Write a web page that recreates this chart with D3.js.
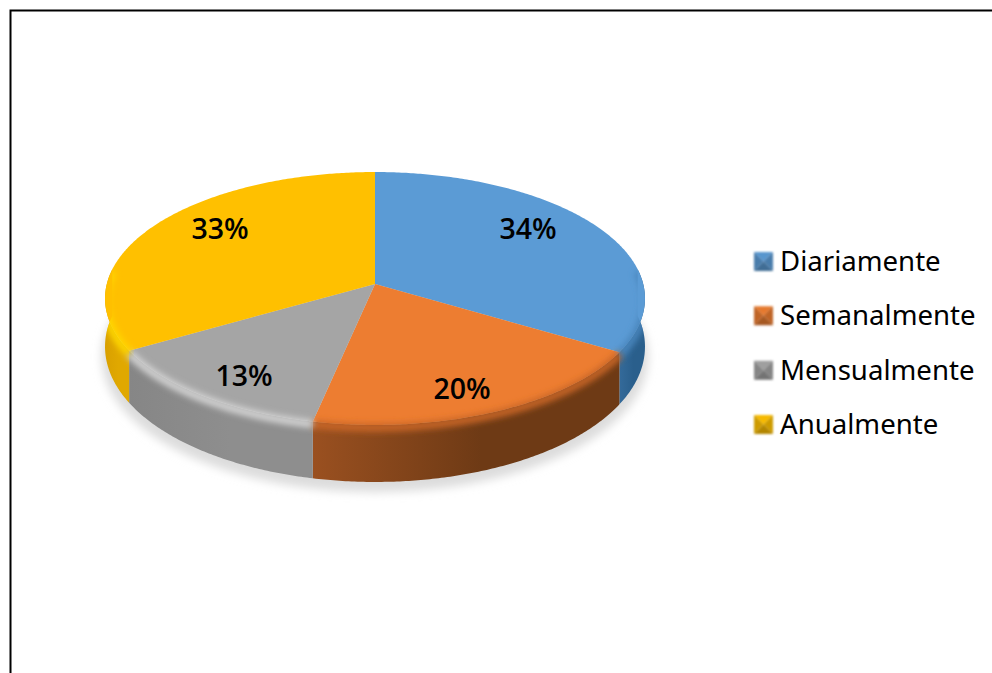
<!DOCTYPE html>
<html><head><meta charset="utf-8">
<script src="https://cdn.jsdelivr.net/npm/d3@7"></script>
<style>html,body{margin:0;padding:0;background:#fff}svg{display:block}</style></head>
<body><svg id="c" width="992" height="673"></svg>
<script>
const categories = ["Diariamente","Semanalmente","Mensualmente","Anualmente"];
const shares = [33.6,19.7,13.3,33.4];
const topColors = ["#5B9BD5","#ED7D31","#A5A5A5","#FFC000"];
const wallStops = [
 ["#2a5f8c","#346a9a"],
 ["#6e3a15","#9a5020"],
 ["#8e8e8e","#868686"],
 ["#e0a800","#d9a000"]];
const bevelColors = ["#4a86bd","#c96628","#d4d4d4","#ffd800"];

const svg = d3.select("#c"), defs = svg.append("defs");
const wide = f => f.attr("x","-20%").attr("y","-40%").attr("width","140%").attr("height","180%");
wide(defs.append("filter").attr("id","sh")).append("feGaussianBlur").attr("stdDeviation",5);
wide(defs.append("filter").attr("id","bv")).append("feGaussianBlur").attr("stdDeviation",3.2);
defs.append("filter").attr("id","sw").append("feGaussianBlur").attr("stdDeviation",1);

// frame
svg.append("path").attr("d","M10.5,673V10.5H992").attr("fill","none").attr("stroke","#000").attr("stroke-width",2);

// perspective disc
const cx=375, cy=284, k=0.1146, a=268.2, b=124.8;
const proj = t => { const u=Math.sin(t), v=-Math.cos(t), d=1-k*v;
  return [cx+a*u/d, cy+b*v/d]; };
const depth = t => { const v=-Math.cos(t); return 47+10*Math.max(v,-1)*(v>0?1:0.2); };
const below = t => { const p=proj(t); return [p[0],p[1]+depth(t)]; };
const line = d3.line();
const pie = d3.pie().sort(null).value(d=>d)(shares);
const samples = (s,e) => { const n=Math.max(2,Math.ceil((e-s)/0.01)); return d3.range(n+1).map(i=>s+(e-s)*i/n); };

// ground shadow
const ALL = samples(0,2*Math.PI);
svg.append("path").attr("d",line(ALL.map(t=>{const p=below(t);return [p[0]+(p[0]-cx)*0.012,p[1]+10];}))+"Z")
  .attr("fill","#dcdcdc").attr("filter","url(#sh)");

// silhouette clip for the bevel
const lo=Math.PI/2-0.12, hi=3*Math.PI/2+0.12;
const sil = samples(0,lo).map(proj)
  .concat(samples(lo,hi).map(below))
  .concat(samples(hi,2*Math.PI).map(proj));
defs.append("clipPath").attr("id","disc").append("path").attr("d",line(sil)+"Z");

// walls (front half only)
const front = (s,e) => [Math.max(s,lo), Math.min(e,hi)];
const wallG = svg.append("g");
pie.forEach((d,i)=>{
  const [s,e]=front(d.startAngle,d.endAngle);
  if(e<=s) return;
  const ts=samples(s,e), xs=ts.map(t=>proj(t)[0]);
  const g=defs.append("linearGradient").attr("id","w"+i).attr("gradientUnits","userSpaceOnUse")
    .attr("x1",d3.min(xs)).attr("x2",d3.max(xs)).attr("y1",0).attr("y2",0);
  g.append("stop").attr("offset",0).attr("stop-color",wallStops[i][1]);
  g.append("stop").attr("offset",.55).attr("stop-color",wallStops[i][0]);
  g.append("stop").attr("offset",1).attr("stop-color",wallStops[i][0]);
  wallG.append("path").attr("d",line(ts.map(proj).concat(ts.slice().reverse().map(below)))+"Z")
    .attr("fill",`url(#w${i})`);
});

// top face
svg.append("g").selectAll("path").data(pie).join("path")
  .attr("d",d=>line([[cx,cy]].concat(samples(d.startAngle,d.endAngle).map(proj)))+"Z")
  .attr("fill",(d,i)=>topColors[i]);

// rim bevel over the face edge
const bevG = svg.append("g").attr("clip-path","url(#disc)");
pie.forEach((d,i)=>{
  const [s,e]=front(d.startAngle,d.endAngle);
  if(e<=s) return;
  bevG.append("path").attr("d",line(samples(s,e).map(t=>{const p=proj(t);return [p[0],p[1]+2.5];})))
    .attr("fill","none").attr("stroke",bevelColors[i]).attr("stroke-width",8).attr("filter","url(#bv)");
});

// labels
const labelPos = [[528,229],[462,389],[244,376],[220,229]];
const pct = d3.format(".0f");
svg.append("g").selectAll("text").data(pie).join("text")
  .attr("x",(d,i)=>labelPos[i][0]).attr("y",(d,i)=>labelPos[i][1])
  .attr("dy","0.35em").attr("text-anchor","middle")
  .attr("font-family","'Open Sans'").attr("font-weight",600).attr("font-size",28.5)
  .attr("fill","#000").text(d=>pct(d.value)+"%");

// legend
const ly = d3.scalePoint().domain(categories).range([261,424]);
const leg = svg.append("g").selectAll("g").data(categories).join("g")
  .attr("transform",d=>`translate(0,${ly(d)})`);
leg.each(function(d,i){
  const g=d3.select(this).append("g").attr("filter","url(#sw)"), c=d3.color(topColors[i]);
  const x0=754,x1=773,y0=-9,y1=10, mx=763.5, my=0.5;
  const tri=[[[x0,y0],[x1,y0],[mx,my]],[[x1,y0],[x1,y1],[mx,my]],[[x1,y1],[x0,y1],[mx,my]],[[x0,y1],[x0,y0],[mx,my]]];
  const cols=[c.darker(0.1),c.darker(0.6),c.darker(1),c.darker(0.6)];
  tri.forEach((p,j)=>g.append("path").attr("d",line(p)+"Z").attr("fill",cols[j]));
});
leg.append("text").attr("x",780).attr("dy","0.36em")
  .attr("font-family","'Noto Sans'").attr("font-size",27.6).attr("fill","#000").text(d=>d);
</script></body></html>
